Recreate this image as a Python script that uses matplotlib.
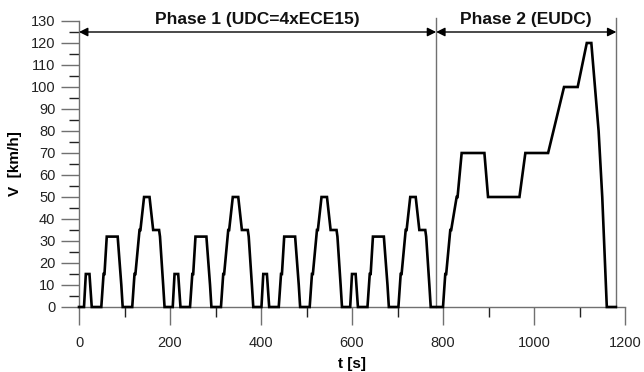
import matplotlib
matplotlib.use("Agg")
import matplotlib.pyplot as plt
import numpy as np

# ECE15 elementary urban cycle (195 s) breakpoints
ece_t = [0, 11, 15, 23, 28, 49, 54, 56, 61, 85, 93, 96, 117, 122, 124, 133, 135,
         143, 155, 163, 176, 178, 185, 188, 195]
ece_v = [0, 0, 15, 15, 0, 0, 15, 15, 32, 32, 10, 0, 0, 15, 15, 35, 35,
         50, 50, 35, 35, 32, 10, 0, 0]
n_ece = 4

# EUDC extra-urban cycle breakpoints (relative to its start)
eudc_t = [0, 20, 25, 27, 36, 38, 50, 52, 61, 111, 119, 188, 201, 251, 286,
          316, 336, 346, 362, 370, 380, 400]
eudc_v = [0, 0, 15, 15, 35, 35, 50, 50, 70, 70, 50, 50, 70, 70, 100,
          100, 120, 120, 80, 50, 0, 0]

phase1_end = 785
phase2_end = 1181
arrow_level = 125
phase_labels = ["Phase 1 (UDC=4xECE15)", "Phase 2 (EUDC)"]

x_ticks = [0, 200, 400, 600, 800, 1000, 1200]
y_ticks = list(range(0, 131, 10))

# assemble the cycle
t_all, v_all = [], []
for k in range(n_ece):
    t_all += [t + 195 * k for t in ece_t]
    v_all += ece_v
start_eudc = 195 * n_ece
t_all += [t + start_eudc for t in eudc_t]
v_all += eudc_v

plt.rcParams['font.family'] = ['Liberation Sans', 'DejaVu Sans']

fig = plt.figure(figsize=(6.44, 3.72), dpi=100)
ax = fig.add_axes([79/644, 1 - 307/372, (625-79)/644, (307-21)/372])

ax.plot(t_all, v_all, color='black', lw=1.9, solid_joinstyle='miter', zorder=3,
        clip_on=False)

ax.set_xlim(0, 1200)
ax.set_ylim(0, 130)
ax.set_xticks(x_ticks)
ax.set_xticks(range(100, 1200, 200), minor=True)
ax.set_yticks(y_ticks)
ax.set_yticks(range(5, 130, 10), minor=True)

gray = '#707070'
for s in ['top', 'right']:
    ax.spines[s].set_visible(False)
for s in ['left', 'bottom']:
    ax.spines[s].set_color(gray)
    ax.spines[s].set_linewidth(1.0)

ax.tick_params(axis='both', which='major', length=13, width=1.0, color=gray,
               labelsize=10.5, pad=4, labelcolor='#222222')
ax.tick_params(axis='both', which='minor', length=7, width=1.0, color='#222222')
ax.tick_params(axis='x', which='major', pad=8)

ax.set_xlabel('t [s]', fontweight='bold', fontsize=11, labelpad=5)
ax.set_ylabel('V  [km/h]', fontweight='bold', fontsize=11, labelpad=6)

# phase boundary lines
for xb in [phase1_end, phase2_end]:
    ax.plot([xb, xb], [0, 131.5], color=gray, lw=1.0, clip_on=False, zorder=2)

# arrows
arr = dict(arrowstyle='<|-|>', color='black', lw=1.0, mutation_scale=13,
           shrinkA=0, shrinkB=0)
ax.annotate('', xy=(0, arrow_level), xytext=(phase1_end, arrow_level),
            arrowprops=arr, annotation_clip=False)
ax.annotate('', xy=(phase1_end, arrow_level), xytext=(phase2_end, arrow_level),
            arrowprops=arr, annotation_clip=False)

ax.text(phase1_end / 2, 127.3, phase_labels[0], ha='center', va='bottom',
        fontweight='bold', fontsize=12.5, color='#111111')
ax.text((phase1_end + phase2_end) / 2, 127.3, phase_labels[1], ha='center',
        va='bottom', fontweight='bold', fontsize=12.5, color='#111111')

fig.savefig('out.png', dpi=100)
